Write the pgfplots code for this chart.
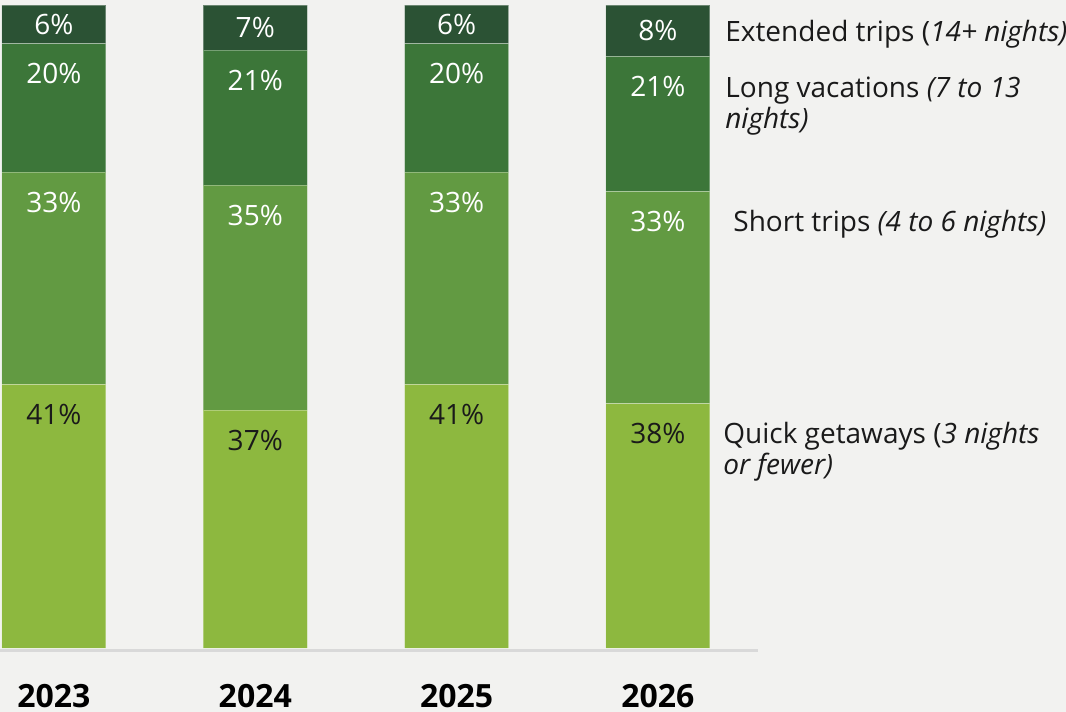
\documentclass[border=0pt]{standalone}
\usepackage{pgfplots}
\pgfplotsset{compat=1.18}
\usepackage{fontspec}
\setmainfont{Open Sans}
\definecolor{bgc}{HTML}{F2F2F0}
\definecolor{cA}{HTML}{8DB83F}
\definecolor{cB}{HTML}{629A42}
\definecolor{cC}{HTML}{3C7639}
\definecolor{cD}{HTML}{2B5234}
\definecolor{txt}{HTML}{1A1A1A}
\definecolor{axl}{HTML}{D9D9D9}
\tikzset{
  leg/.style={font=\fontsize{14}{16}\selectfont, text=txt, anchor=base west, inner sep=0pt},
  yr/.style={font=\fontsize{16}{19}\selectfont\bfseries, text=black, anchor=base, inner sep=0pt},
}
% label placed 40px (20pt) below the top of its segment; node sits at segment centre
\newcommand\seglabel{%
  \pgfmathprintnumberto{\pgfplotspointmeta}{\segval}%
  \pgfmathparse{\segval*1.6075-20}\let\segshift\pgfmathresult
  \raisebox{\segshift pt}[0pt][0pt]{\pgfmathprintnumber{\pgfplotspointmeta}\%}}

\begin{document}
\begin{tikzpicture}
\fill[bgc] (0,0) rectangle (533pt,356pt);
\begin{axis}[
  at={(0,0)}, anchor=south west,
  scale only axis, width=533pt, height=356pt,
  xmin=-0.268, xmax=5.027, ymin=-9.95, ymax=100.78,
  hide axis, clip=false,
  ybar stacked, bar width=0.517,
  /pgf/number format/assume math mode=true,
  nodes near coords={\seglabel},
  every node near coord/.append style={font=\fontsize{14}{16}\selectfont, anchor=base, inner sep=0pt},
]
\draw[axl, line width=1.5pt] (axis cs:-0.268,-0.35) -- (axis cs:3.497,-0.35);
\addplot[fill=cA, draw=white, draw opacity=0.3, line width=0.5pt, every node near coord/.append style={text=txt}]
  coordinates {(0,41) (1,37) (2,41) (3,38)};
\addplot[fill=cB, draw=white, draw opacity=0.3, line width=0.5pt, every node near coord/.append style={text=white}]
  coordinates {(0,33) (1,35) (2,33) (3,33)};
\addplot[fill=cC, draw=white, draw opacity=0.3, line width=0.5pt, every node near coord/.append style={text=white}]
  coordinates {(0,20) (1,21) (2,20) (3,21)};
\addplot[fill=cD, draw=white, draw opacity=0.3, line width=0.5pt,
  nodes near coords={\pgfmathprintnumber{\pgfplotspointmeta}\%},
  every node near coord/.append style={text=white, yshift=-5pt}]
  coordinates {(0,6) (1,7) (2,6) (3,8)};

\node[leg] at (axis cs:3.333,94.25) {Extended trips (\textit{14+ nights)}};
\node[leg] at (axis cs:3.333,85.69) {Long vacations \textit{(7 to 13}};
\node[leg] at (axis cs:3.333,80.72) {\textit{nights)}};
\node[leg] at (axis cs:3.373,64.70) {Short trips \textit{(4 to 6 nights)}};
\node[leg] at (axis cs:3.323,31.88) {Quick getaways (\textit{3 nights}};
\node[leg] at (axis cs:3.323,27.06) {\textit{or fewer)}};
\node[yr] at (axis cs:0,-9.18) {2023};
\node[yr] at (axis cs:1,-9.18) {2024};
\node[yr] at (axis cs:2,-9.18) {2025};
\node[yr] at (axis cs:3,-9.18) {2026};
\end{axis}
\pgfresetboundingbox
\useasboundingbox (0,0) rectangle (533pt,356pt);
\end{tikzpicture}
\end{document}
